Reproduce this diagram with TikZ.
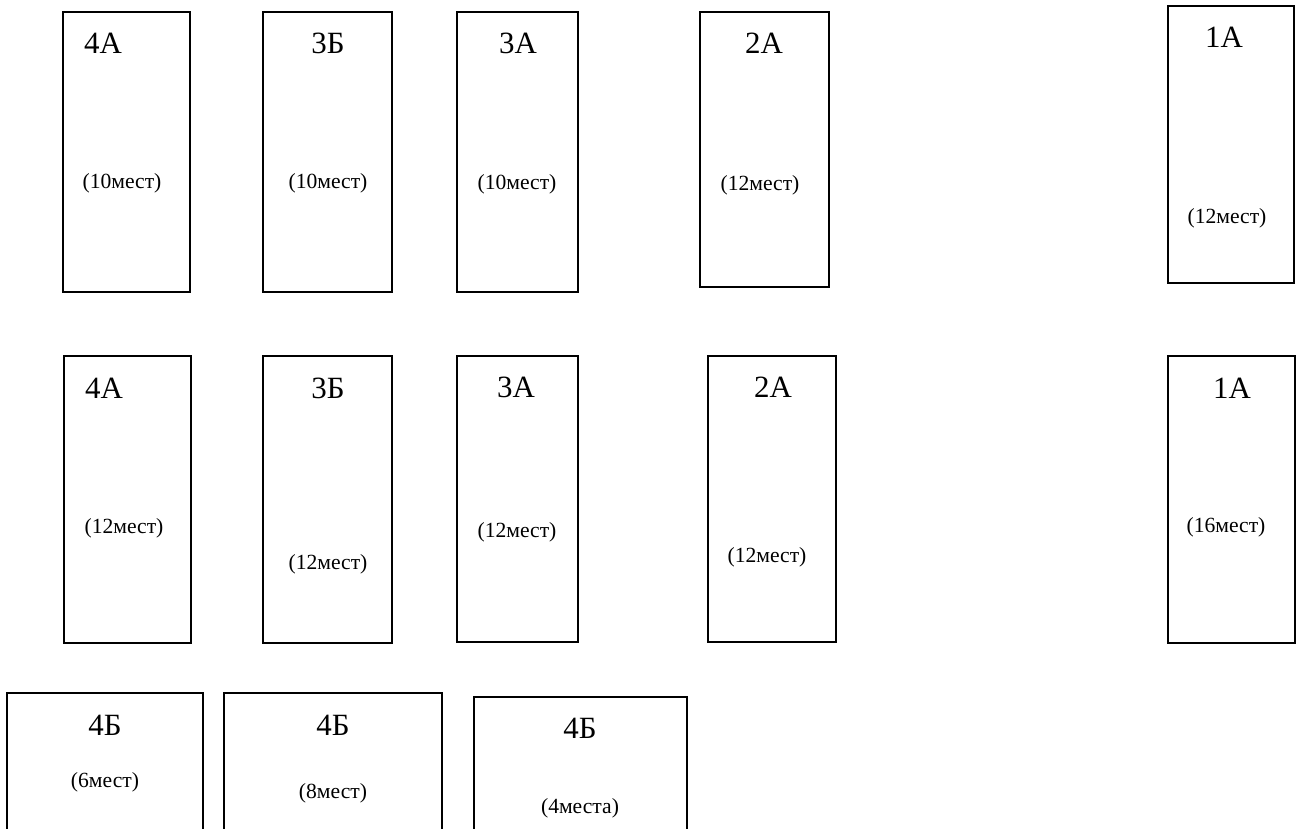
\documentclass[tikz,border=0pt]{standalone}
\usepackage{fontspec}
\setmainfont{Liberation Serif}

\begin{document}
\begin{tikzpicture}[x=0.02cm, y=-0.02cm]
  % Base settings
  \tikzset{
    room/.style={draw, line width=1.1pt, line join=miter},
    classname/.style={inner sep=0pt, font=\fontsize{17.6}{20}\selectfont},
    seats/.style={inner sep=0pt, font=\fontsize{12.3}{14}\selectfont}
  }

  \clip (0,0) rectangle (1301,828);
  \fill[white] (0,0) rectangle (1301,828);

  % --- First row ---
  \draw[room] (63,12) rectangle (190,292);
  \node[classname] (r1a) at (103,43) {4А};
  \node[seats] (r1as) at (122,183) {(10мест)};

  \draw[room] (263,12) rectangle (392,292);
  \node[classname] (r1b) at (328,43) {3Б};
  \node[seats] (r1bs) at (328,183) {(10мест)};

  \draw[room] (457,12) rectangle (578,292);
  \node[classname] (r1c) at (518,43) {3А};
  \node[seats] (r1cs) at (517,184) {(10мест)};

  \draw[room] (700,12) rectangle (829,287);
  \node[classname] (r1d) at (764,43) {2А};
  \node[seats] (r1ds) at (760,185) {(12мест)};

  \draw[room] (1168,6) rectangle (1294,283);
  \node[classname] (r1e) at (1224,37) {1А};
  \node[seats] (r1es) at (1227,218) {(12мест)};

  % --- Second row ---
  \draw[room] (64,356) rectangle (191,643);
  \node[classname] (r2a) at (104,388) {4А};
  \node[seats] (r2as) at (124,528) {(12мест)};

  \draw[room] (263,356) rectangle (392,643);
  \node[classname] (r2b) at (328,388) {3Б};
  \node[seats] (r2bs) at (328,564) {(12мест)};

  \draw[room] (457,356) rectangle (578,642);
  \node[classname] (r2c) at (516,387) {3А};
  \node[seats] (r2cs) at (517,532) {(12мест)};

  \draw[room] (708,356) rectangle (836,642);
  \node[classname] (r2d) at (773,387) {2А};
  \node[seats] (r2ds) at (767,557) {(12мест)};

  \draw[room] (1168,356) rectangle (1295,643);
  \node[classname] (r2e) at (1232,388) {1А};
  \node[seats] (r2es) at (1226,527) {(16мест)};

  % --- Third row (cut by the lower edge) ---
  \draw[room] (7,693) rectangle (203,860);
  \node[classname] (r3a) at (105,725) {4Б};
  \node[seats] (r3as) at (105,782) {(6мест)};

  \draw[room] (224,693) rectangle (442,860);
  \node[classname] (r3b) at (333,725) {4Б};
  \node[seats] (r3bs) at (333,793) {(8мест)};

  \draw[room] (474,697) rectangle (687,860);
  \node[classname] (r3c) at (580,728) {4Б};
  \node[seats] (r3cs) at (580,808) {(4места)};

\end{tikzpicture}
\end{document}
